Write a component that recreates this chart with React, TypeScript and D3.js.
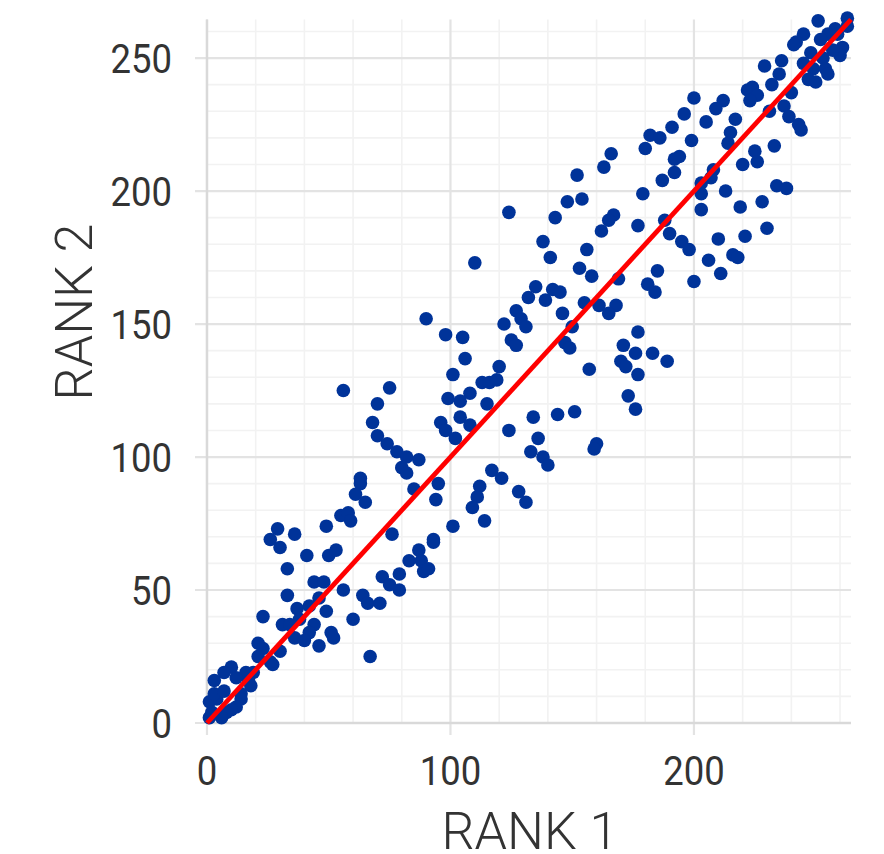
import React from "react";
import * as d3 from "d3";

// rank pairs (rank1[i], rank2[i])
const rank1 = [
  166, 163, 152, 148, 154, 124, 143, 167, 165, 162, 177, 138, 156, 141, 110,
  263, 251, 258, 255, 245, 242, 241, 252, 259, 263, 261, 260, 257, 248, 253, 245, 236, 229, 249, 254,
  255, 247, 250, 235, 232, 240, 222, 224, 226, 223, 200, 212, 209, 237, 231, 196, 217, 205, 239, 243,
  244, 191, 182, 186, 180, 215, 199, 214, 233, 225, 226, 194, 192, 220, 208, 192, 187, 207, 203, 179,
  203, 213, 234, 238, 228, 219, 203, 188, 190, 230, 210, 221, 195, 198, 216, 218, 206,
  185, 211, 181, 184, 200, 177, 176, 183, 189, 177, 176,
  153, 158, 169, 135, 132, 139, 142, 145, 155, 161, 168, 165, 146, 127, 129, 131, 122, 150, 90, 98,
  105, 125, 127, 147, 149, 106, 171, 170, 172, 157, 101, 120, 113, 116, 119, 108, 104, 99, 115, 173,
  104, 96, 98, 102, 108, 124, 134, 144, 151, 136, 133, 138, 140, 160, 159, 87, 117, 121, 95, 85,
  112, 111, 128, 131, 94,
  109, 114, 101, 93, 93, 87, 88, 89, 91,
  56, 75, 70, 68, 70, 74, 78, 82, 80, 82, 63, 63, 61, 65,
  29, 26, 30, 36, 49, 55, 58, 59, 76, 41, 50, 53, 33, 44, 48, 56, 33, 37, 42, 46,
  23, 49, 31, 34, 38, 44, 42, 36, 40, 51, 52, 46, 60, 64, 66, 71, 72, 75, 79, 79,
  83, 67, 21, 23, 21, 27, 30, 26, 19, 17, 18, 16, 10, 7, 3, 12, 14, 14, 12, 10,
  8, 6, 4, 1, 3, 7, 1, 2,
];
const rank2 = [
  214, 209, 206, 196, 197, 192, 190, 191, 189, 185, 187, 181, 178, 175, 173,
  265, 264, 261, 259, 259, 256, 255, 257, 259, 262, 254, 251, 253, 252, 250, 248, 249, 247, 246, 246,
  244, 242, 241, 244, 240, 237, 238, 239, 236, 234, 235, 234, 231, 232, 230, 229, 227, 226, 228, 225,
  223, 224, 221, 220, 216, 222, 219, 218, 217, 215, 211, 213, 212, 210, 208, 207, 204, 205, 203, 199,
  199, 200, 202, 201, 196, 194, 193, 189, 184, 186, 182, 183, 181, 178, 176, 175, 174,
  170, 169, 165, 162, 166, 147, 139, 139, 136, 131, 118,
  171, 168, 167, 164, 160, 159, 163, 162, 158, 157, 157, 154, 154, 155, 152, 149, 150, 149, 152, 146,
  145, 144, 142, 143, 141, 137, 142, 136, 134, 133, 131, 134, 128, 128, 129, 124, 121, 122, 120, 123,
  115, 113, 110, 107, 112, 110, 115, 116, 117, 107, 102, 100, 97, 105, 103, 99, 95, 92, 90, 88,
  89, 85, 87, 83, 84,
  81, 76, 74, 69, 68, 65, 61, 57, 58,
  125, 126, 120, 113, 108, 105, 102, 100, 96, 94, 92, 90, 86, 83,
  73, 69, 66, 71, 74, 78, 79, 76, 71, 63, 63, 65, 58, 53, 53, 50, 48, 43, 44, 47,
  40, 42, 37, 37, 39, 37, 34, 32, 31, 34, 32, 29, 39, 48, 45, 45, 55, 52, 56, 50,
  61, 25, 30, 28, 25, 22, 27, 23, 19, 16, 14, 19, 21, 19, 16, 17, 11, 9, 6, 5,
  4, 2, 9, 8, 11, 12, 2, 4,
];

const xTicks = [0, 100, 200];
const yTicks = [0, 50, 100, 150, 200, 250];
const axisMax = 264.5;

export default function App() {
  const width = 884;
  const height = 854;
  const marginTop = 19.5;
  const marginRight = 33;
  const marginBottom = 131;
  const marginLeft = 207;

  const x = d3.scaleLinear().domain([0, axisMax]).range([marginLeft, width - marginRight]);
  const y = d3.scaleLinear().domain([0, axisMax]).range([height - marginBottom, marginTop]);

  const xMinor = d3.range(0, axisMax, 20).filter((v) => !xTicks.includes(v));
  const yMinor = d3.range(0, axisMax, 10).filter((v) => !yTicks.includes(v));

  const points = rank1.map((r, i) => ({ r1: r, r2: rank2[i] }));

  // identity line y = x across the panel
  const line = d3
    .line<number>()
    .x((d) => x(d))
    .y((d) => y(d));

  const [x0, x1] = x.range();
  const [y0, y1] = y.range();

  // tick digits are narrow in the original, squeeze them a bit
  const digitW = 20.5;

  return (
    <svg
      width={width}
      height={height}
      style={{ position: "absolute", left: 0, top: 0, background: "#fff" }}
    >
      {/* minor grid */}
      <g stroke="#f2f2f2" strokeWidth="1.6">
        {xMinor.map((v) => (
          <line key={"xm" + v} x1={x(v)} x2={x(v)} y1={y0} y2={y1} />
        ))}
        {yMinor.map((v) => (
          <line key={"ym" + v} x1={x0} x2={x1} y1={y(v)} y2={y(v)} />
        ))}
      </g>
      {/* major grid + ticks */}
      <g stroke="#e3e3e3" strokeWidth="2.2">
        {xTicks.map((v) => (
          <line key={"xt" + v} x1={x(v)} x2={x(v)} y1={y0 + 12} y2={y1} />
        ))}
        {yTicks.map((v) => (
          <line key={"yt" + v} x1={x0 - 12} x2={x1} y1={y(v)} y2={y(v)} />
        ))}
      </g>
      {/* axis lines */}
      <g stroke="#d9d9d9" strokeWidth="2.4">
        <line x1={x0} x2={x0} y1={y0} y2={y1} />
        <line x1={x0} x2={x1} y1={y0} y2={y0} />
      </g>

      <g fill="#003399">
        {points.map((d, i) => (
          <circle key={i} cx={x(d.r1)} cy={y(d.r2)} r="6.8" />
        ))}
      </g>

      <path
        d={line(x.domain()) ?? undefined}
        fill="none"
        stroke="#ff0000"
        strokeWidth="4.8"
      />

      <g fontFamily="Roboto, sans-serif" fontSize="41" fill="#333333">
        {xTicks.map((v) => (
          <text
            key={"xl" + v}
            x={x(v)}
            y={y0 + 62}
            textAnchor="middle"
            textLength={String(v).length * digitW}
            lengthAdjust="spacingAndGlyphs"
          >
            {v}
          </text>
        ))}
        {yTicks.map((v) => (
          <text
            key={"yl" + v}
            x={x0 - 35}
            y={y(v)}
            dy="0.36em"
            textAnchor="end"
            textLength={String(v).length * digitW}
            lengthAdjust="spacingAndGlyphs"
          >
            {v}
          </text>
        ))}
      </g>

      <g fontFamily="Roboto, sans-serif" fontWeight="300" fontSize="52" fill="#333333">
        <text x={(x0 + x1) / 2 + 1} y={849} textAnchor="middle">
          RANK 1
        </text>
        <text transform="translate(92,312) rotate(-90)" textAnchor="middle">
          RANK 2
        </text>
      </g>
    </svg>
  );
}
